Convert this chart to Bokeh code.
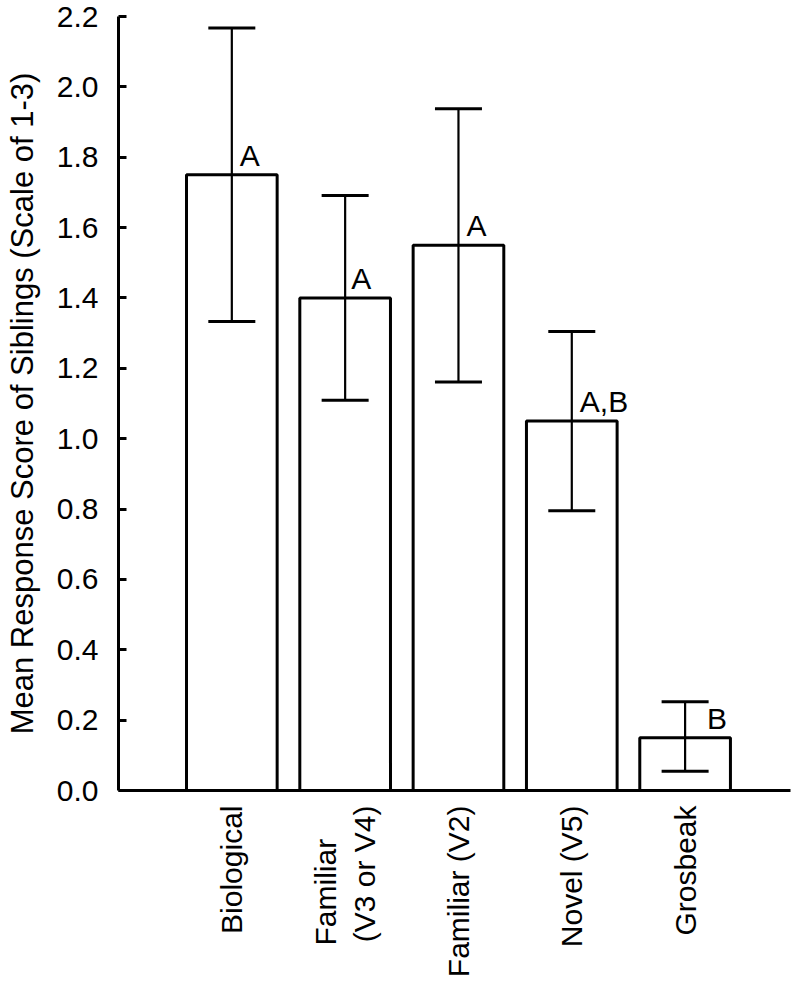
import math
from bokeh.plotting import figure
from bokeh.models import (Range1d, FixedTicker, Whisker, TeeHead, ColumnDataSource,
                          PrintfTickFormatter)
from bokeh.embed import file_html
from bokeh.resources import INLINE
from bokeh.core.properties import value

# ---- data ----
categories = ["Biological", "Familiar\u00a0\u00a0\u00a0\u00a0\n(V3 or V4)", "Familiar (V2)",
              "Novel (V5)", "Grosbeak"]
positions = [1, 2, 3, 4, 5]
means = [1.75, 1.40, 1.55, 1.05, 0.15]
upper = [2.167, 1.691, 1.938, 1.305, 0.252]
lower = [1.333, 1.109, 1.161, 0.795, 0.055]
letters = ["A", "A", "A", "A,B", "B"]
y_ticks = [0.0, 0.2, 0.4, 0.6, 0.8, 1.0, 1.2, 1.4, 1.6, 1.8, 2.0, 2.2]
y_title = "Mean Response Score of Siblings (Scale of 1-3)"

# style: horizontal offset (px) of each letter from its error bar
letter_dx = [8, 6, 8, 8, 22]

FONT = "Liberation Sans"

src = ColumnDataSource(dict(x=positions, mean=means, upper=upper, lower=lower,
                            letter=letters, dx=letter_dx))

p = figure(width=792, height=980,
           x_range=Range1d(0, 5.93), y_range=Range1d(0, 2.2),
           output_backend="svg", toolbar_location=None,
           min_border_left=118, min_border_right=2,
           min_border_top=16, min_border_bottom=184)

p.background_fill_color = "white"
p.border_fill_color = "white"
p.outline_line_color = None
p.xgrid.visible = False
p.ygrid.visible = False

# bars
p.vbar(x="x", top="mean", bottom=0, width=0.8, source=src,
       fill_color="white", line_color="black", line_width=3)

# error bars (drawn above the bars)
whisk = Whisker(base="x", upper="upper", lower="lower", source=src,
                line_color="black", line_width=2.2, level="overlay",
                upper_head=TeeHead(size=47, line_width=3, line_color="black"),
                lower_head=TeeHead(size=47, line_width=3, line_color="black"))
p.add_layout(whisk)

# significance letters
p.text(x="x", y="mean", text="letter", source=src,
       x_offset="dx", y_offset=-3,
       text_font=value(FONT), text_font_size="30px",
       text_align="left", text_baseline="bottom", text_color="black")

# y axis
ya = p.yaxis[0]
ya.ticker = FixedTicker(ticks=y_ticks)
ya.formatter = PrintfTickFormatter(format="%.1f")
ya.minor_tick_line_color = None
ya.major_tick_in = 8
ya.major_tick_out = 0
ya.major_tick_line_width = 3
ya.axis_line_width = 3
ya.major_label_standoff = 20
ya.major_label_text_font = FONT
ya.major_label_text_font_size = "30px"
ya.major_label_text_color = "black"
ya.axis_label = y_title
ya.axis_label_text_font = FONT
ya.axis_label_text_font_size = "31px"
ya.axis_label_text_font_style = "normal"
ya.axis_label_text_color = "black"
ya.axis_label_standoff = 14

# x axis
xa = p.xaxis[0]
xa.ticker = FixedTicker(ticks=positions)
xa.major_label_overrides = {pos: lab for pos, lab in zip(positions, categories)}
xa.major_label_orientation = math.pi / 2
xa.minor_tick_line_color = None
xa.major_tick_line_color = None
xa.major_tick_in = 0
xa.major_tick_out = 0
xa.axis_line_width = 3
xa.major_label_standoff = 15
xa.major_label_text_font = FONT
xa.major_label_text_font_size = "30px"
xa.major_label_text_color = "black"

open("out.html", "w").write(file_html(p, INLINE))
